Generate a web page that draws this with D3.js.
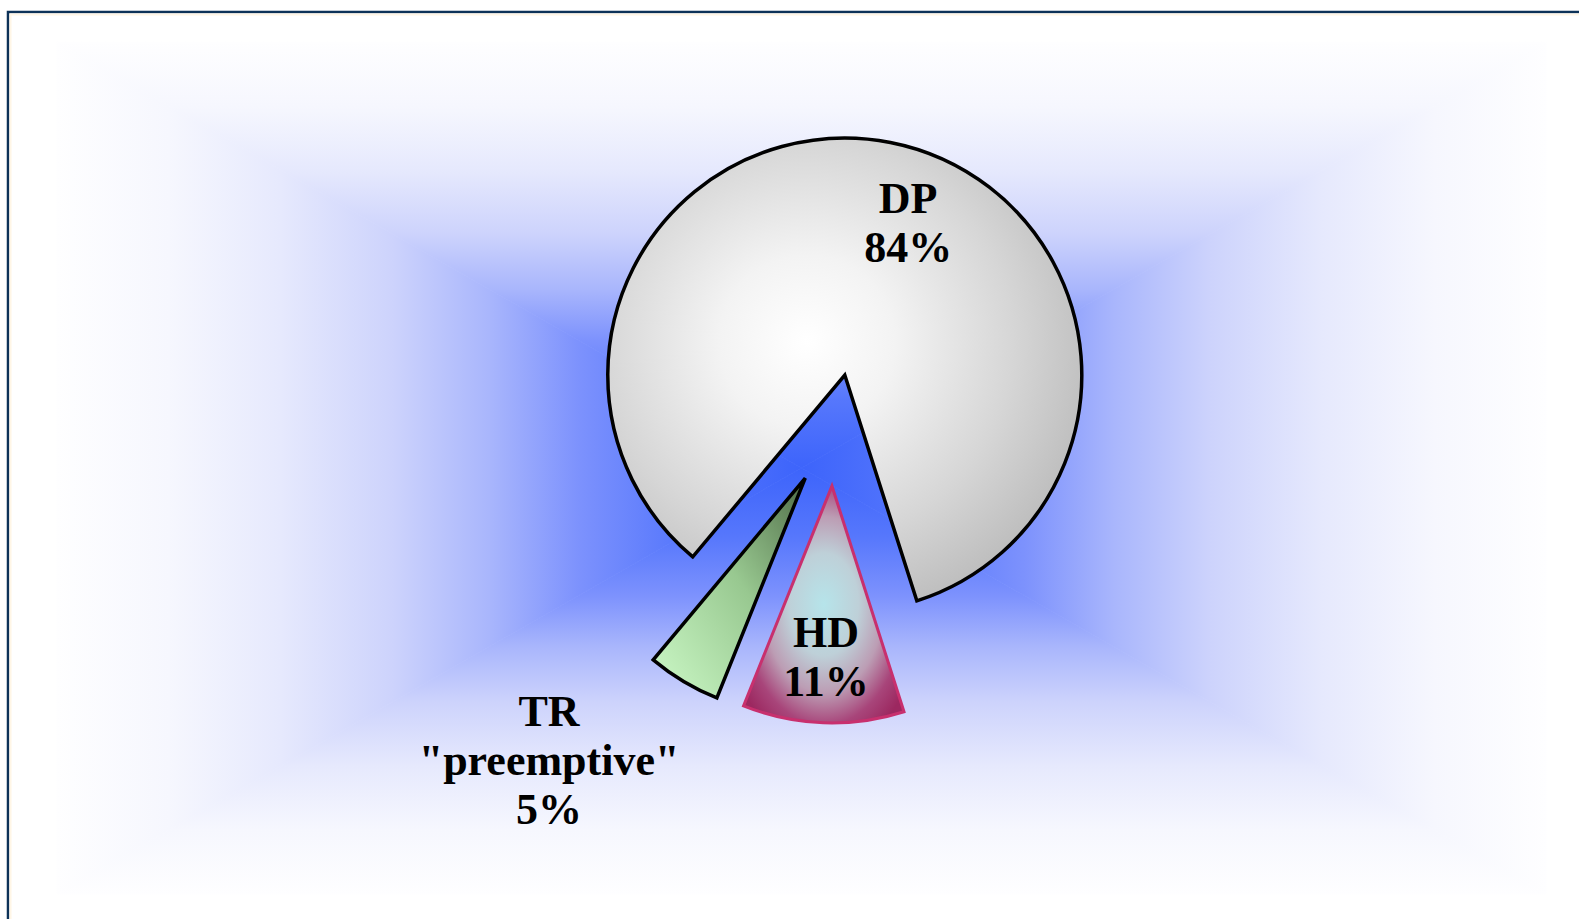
<!DOCTYPE html>
<html>
<head>
<meta charset="utf-8">
<script src="https://cdn.jsdelivr.net/npm/d3@7"></script>
<style>
  html, body { margin: 0; padding: 0; background: #ffffff; overflow: hidden; }
  svg { display: block; }
</style>
</head>
<body>
<script>
// ---- data ----
const categories = ["DP", "HD", "TR"];
const values = [84, 11, 5];
const labelLines = [["DP", "84%"], ["HD", "11%"], ["TR", "\"preemptive\"", "5%"]];

// ---- layout / style ----
const W = 1579, H = 919;
const pieCenter = [834, 430];
const radius = 237;
const explode = 56;
const startDeg = -140.1;
// label block position: polar (deg clockwise from 12 o'clock, radius) from pie center
const labelPolar = { DP: [19.8, 219], HD: [182, 228], TR: [220.7, 437] };
const fontSize = 44, lineGap = 49;

const svg = d3.select("body").append("svg").attr("width", W).attr("height", H);
const defs = svg.append("defs");

// ---- background rectangular gradient ----
const bg = { L: 57, T: 42, R: 1546, B: 894 };
const bcx = (bg.L + bg.R) / 2, bcy = (bg.T + bg.B) / 2;
const bgStops = [
  [0, "#fefeff"], [0.15, "#f6f7fe"], [0.3, "#e6e9fd"], [0.45, "#cdd3fc"],
  [0.58, "#a9b6fc"], [0.7, "#7d92fd"], [0.84, "#5677fc"], [1, "#3d64fb"]
];
const tris = [
  { id: "bgT", pts: [[bg.L, bg.T], [bg.R, bg.T], [bcx, bcy]], g: [bcx, bg.T, bcx, bcy] },
  { id: "bgB", pts: [[bg.L, bg.B], [bg.R, bg.B], [bcx, bcy]], g: [bcx, bg.B, bcx, bcy] },
  { id: "bgL", pts: [[bg.L, bg.T], [bg.L, bg.B], [bcx, bcy]], g: [bg.L, bcy, bcx, bcy] },
  { id: "bgR", pts: [[bg.R, bg.T], [bg.R, bg.B], [bcx, bcy]], g: [bg.R, bcy, bcx, bcy] }
];
tris.forEach(t => {
  const lg = defs.append("linearGradient").attr("id", t.id).attr("gradientUnits", "userSpaceOnUse")
    .attr("x1", t.g[0]).attr("y1", t.g[1]).attr("x2", t.g[2]).attr("y2", t.g[3]);
  bgStops.forEach(s => lg.append("stop").attr("offset", s[0]).attr("stop-color", s[1]));
});
svg.append("g").selectAll("polygon").data(tris).join("polygon")
  .attr("points", d => d.pts.map(p => p.join(",")).join(" "))
  .attr("fill", d => `url(#${d.id})`)
  .attr("stroke", d => `url(#${d.id})`)
  .attr("stroke-width", 0.8);

// ---- slice gradients ----
const gDP = defs.append("radialGradient").attr("id", "gDP")
  .attr("cx", 0.42).attr("cy", 0.44).attr("r", 0.62);
[[0, "#ffffff"], [0.3, "#f3f3f3"], [0.7, "#d6d6d6"], [1, "#bdbdbd"]]
  .forEach(s => gDP.append("stop").attr("offset", s[0]).attr("stop-color", s[1]));

const gHD = defs.append("radialGradient").attr("id", "gHD")
  .attr("cx", 0.5).attr("cy", 0.5).attr("r", 0.62);
[[0, "#b6e4ea"], [0.35, "#bed0d8"], [0.6, "#bc9db4"], [0.82, "#a8457a"], [1, "#9c2860"]]
  .forEach(s => gHD.append("stop").attr("offset", s[0]).attr("stop-color", s[1]));

const gTR = defs.append("linearGradient").attr("id", "gTR")
  .attr("x1", 1).attr("y1", 0).attr("x2", 0).attr("y2", 1);
[[0, "#4e6b46"], [0.45, "#98c890"], [1, "#cdfac8"]]
  .forEach(s => gTR.append("stop").attr("offset", s[0]).attr("stop-color", s[1]));

const fills = { DP: "url(#gDP)", HD: "url(#gHD)", TR: "url(#gTR)" };
const strokes = { DP: "#000000", HD: "#c8306e", TR: "#000000" };

// ---- pie ----
const rad = Math.PI / 180;
const pie = d3.pie().sort(null)
  .startAngle(startDeg * rad).endAngle(startDeg * rad + 2 * Math.PI);
const arcs = pie(values).map((d, i) => Object.assign(d, { cat: categories[i], lines: labelLines[i] }));
const arc = d3.arc().innerRadius(0).outerRadius(radius);

const pg = svg.append("g").attr("transform", `translate(${pieCenter[0]},${pieCenter[1]})`);
pg.selectAll("path").data(arcs).join("path")
  .attr("transform", d => {
    const m = (d.startAngle + d.endAngle) / 2;
    return `translate(${Math.sin(m) * explode},${-Math.cos(m) * explode})`;
  })
  .attr("d", arc)
  .attr("fill", d => fills[d.cat])
  .attr("stroke", d => strokes[d.cat])
  .attr("stroke-width", d => d.cat === "HD" ? 3 : 3.5)
  .attr("stroke-linejoin", "miter");

// ---- labels ----
const lg = pg.selectAll("text").data(arcs).join("text")
  .attr("text-anchor", "middle")
  .attr("font-family", "'Liberation Serif', 'Times New Roman', serif")
  .attr("font-weight", "bold")
  .attr("font-size", fontSize)
  .attr("fill", "#000");
lg.each(function (d) {
  const p = labelPolar[d.cat];
  const x = Math.sin(p[0] * rad) * p[1];
  const y = -Math.cos(p[0] * rad) * p[1];
  const n = d.lines.length;
  const y0 = y - (n - 1) * lineGap / 2 + 14;
  d3.select(this).selectAll("tspan").data(d.lines).join("tspan")
    .attr("x", x).attr("y", (t, j) => y0 + j * lineGap).text(t => t);
});

// ---- outer frame ----
svg.append("rect").attr("x", 8).attr("y", 12).attr("width", W + 20).attr("height", H + 20)
  .attr("fill", "none").attr("stroke", "#0d3258").attr("stroke-width", 2.5);
svg.append("rect").attr("x", 10.5).attr("y", 14.5).attr("width", W + 20).attr("height", H + 20)
  .attr("fill", "none").attr("stroke", "#fff6e6").attr("stroke-width", 2);
</script>
</body>
</html>
